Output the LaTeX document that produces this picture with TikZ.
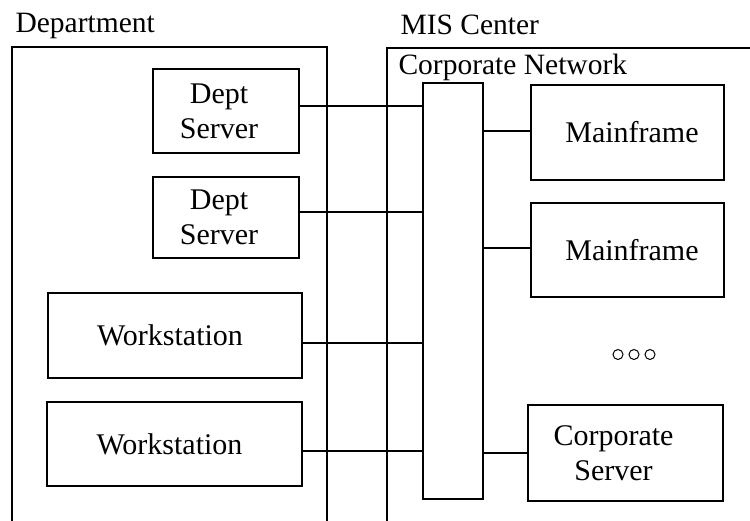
\documentclass[tikz,border=0pt]{standalone}
\usepackage{fontspec}
\setmainfont{Liberation Serif}
\newcommand{\padR}[1]{#1\hspace*{14pt}}
\begin{document}
\begin{tikzpicture}[x=1pt, y=-1pt, line width=1.1pt,
  box/.style={draw, inner sep=0pt, align=center,
    font=\fontsize{30}{35}\selectfont},
  title/.style={anchor=base west, inner sep=0pt,
    font=\fontsize{29.5}{35}\selectfont},
  link/.style={draw},
  dot/.style={circle, draw, line width=1pt, inner sep=0pt, minimum size=10pt}]
  \useasboundingbox (0,0) rectangle (750,521);

  % group frames, open at the bottom / right
  \draw (12,521) -- (12,47) -- (327,47) -- (327,521);
  \draw (387,521) -- (387,48) -- (750,48);

  % titles
  \node[title] (tdept) at (15,33) {Department};
  \node[title] (tmis) at (400,35) {MIS Center};
  \node[title] (tnet) at (398,75) {Corporate Network};

  % department machines
  \node[box, minimum width=146pt, minimum height=84pt] (ds1) at (226,111) {\padR{Dept}\\\padR{Server}};
  \node[box, minimum width=146pt, minimum height=81pt] (ds2) at (226,217.5) {\padR{Dept}\\\padR{Server}};
  \node[box, minimum width=254pt, minimum height=85pt] (ws1) at (175,335.5) {Workstation\hspace*{10pt}};
  \node[box, minimum width=255pt, minimum height=84pt] (ws2) at (174.5,444) {Workstation\hspace*{10pt}};

  % network backbone
  \node[box, minimum width=60pt, minimum height=416pt] (bar) at (453,291) {};

  % central machines
  \node[box, minimum width=193pt, minimum height=95pt] (mf1) at (627.5,132.5) {\hspace*{9pt}Mainframe};
  \node[box, minimum width=193pt, minimum height=94pt] (mf2) at (627.5,250) {\hspace*{9pt}Mainframe};
  \node[box, minimum width=195pt, minimum height=96pt] (cs) at (625.5,453) {Corporate\hspace*{24pt}\\Server\hspace*{24pt}};

  % ellipsis between mainframes and server
  \node[dot] (d1) at (618,354.5) {};
  \node[dot] (d2) at (634,354.5) {};
  \node[dot] (d3) at (650,354.5) {};

  % attachment points on the boxes
  \coordinate (p1) at ([yshift=5pt]ds1.east);
  \coordinate (p2) at ([yshift=5.5pt]ds2.east);
  \coordinate (p3) at ([yshift=-7.5pt]ws1.east);
  \coordinate (p4) at ([yshift=-7pt]ws2.east);
  \coordinate (q1) at ([yshift=1.5pt]mf1.west);
  \coordinate (q2) at ([yshift=2pt]mf2.west);
  \coordinate (q3) at (cs.west);

  % links to the backbone
  \path[link] (p1) -- (p1 -| bar.west);
  \path[link] (p2) -- (p2 -| bar.west);
  \path[link] (p3) -- (p3 -| bar.west);
  \path[link] (p4) -- (p4 -| bar.west);
  \path[link] (q1 -| bar.east) -- (q1);
  \path[link] (q2 -| bar.east) -- (q2);
  \path[link] (q3 -| bar.east) -- (q3);
\end{tikzpicture}
\end{document}
